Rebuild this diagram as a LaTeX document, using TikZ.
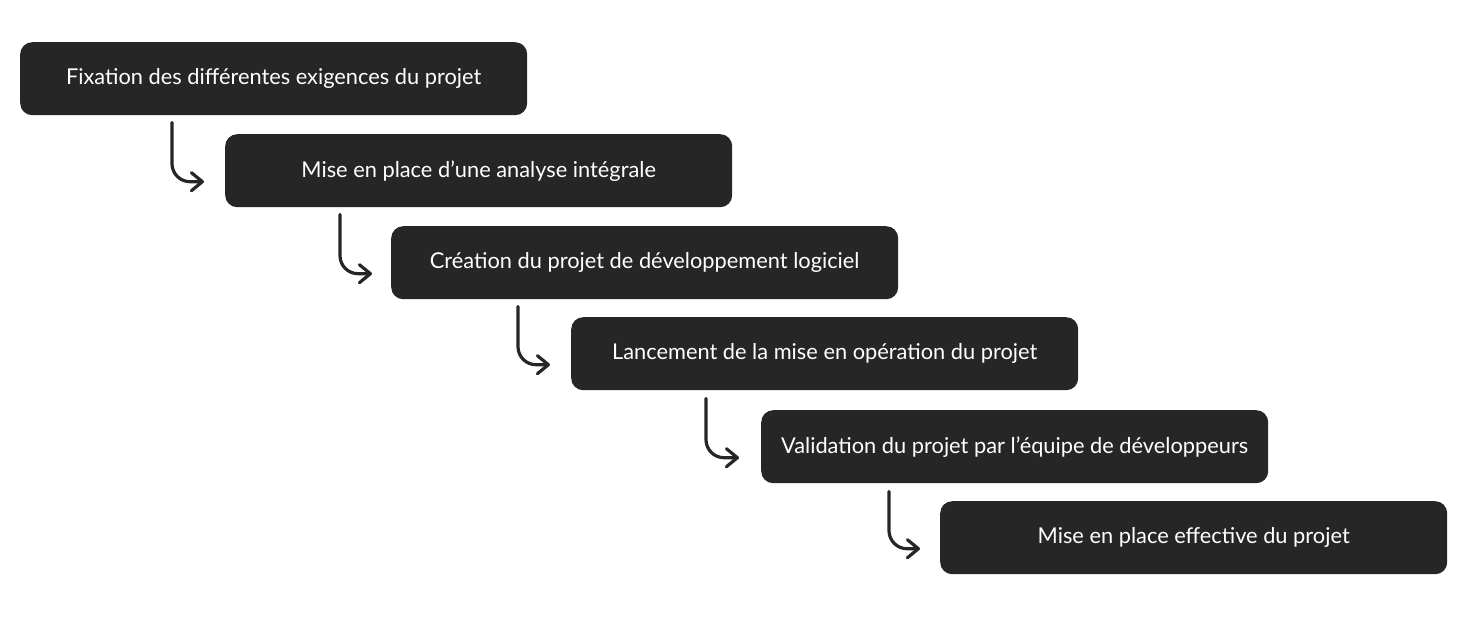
\documentclass[tikz,border=0pt]{standalone}
\usepackage{fontspec}
\setmainfont{Lato}
\usetikzlibrary{arrows.meta}
\definecolor{boxc}{HTML}{262626}
\begin{document}
\begin{tikzpicture}[x=1pt,y=-1pt,
  stepbox/.style={fill=boxc, rounded corners=12pt, minimum width=507pt, minimum height=73pt, inner sep=0pt, text=white, font=\fontsize{21.8}{26}\selectfont, anchor=north west},
  arr/.style={draw=boxc, line width=3.2pt, rounded corners=18pt, line cap=round, -{Straight Barb[length=11pt,width=18pt,line cap=round,line join=round]}}]
\useasboundingbox (0,0) rectangle (1475,627);
\node[stepbox] (b1) at (20,42) {Fixation des différentes exigences du projet};
\node[stepbox] (b2) at (225,134) {Mise en place d’une analyse intégrale};
\node[stepbox] (b3) at (391,226) {Création du projet de développement logiciel};
\node[stepbox] (b4) at (571,317) {Lancement de la mise en opération du projet};
\node[stepbox] (b5) at (761,410) {Validation du projet par l’équipe de développeurs};
\node[stepbox] (b6) at (940,501) {Mise en place effective du projet};
\draw[arr] ([xshift=152pt,yshift=-7pt]b1.south west) |- ([xshift=-21pt,yshift=-11pt]b2.west);
\draw[arr] ([xshift=115pt,yshift=-7pt]b2.south west) |- ([xshift=-19pt,yshift=-11pt]b3.west);
\draw[arr] ([xshift=127pt,yshift=-7pt]b3.south west) |- ([xshift=-21pt,yshift=-11pt]b4.west);
\draw[arr] ([xshift=135pt,yshift=-8pt]b4.south west) |- ([xshift=-22pt,yshift=-11pt]b5.west);
\draw[arr] ([xshift=128pt,yshift=-8pt]b5.south west) |- ([xshift=-20pt,yshift=-11pt]b6.west);
\end{tikzpicture}
\end{document}
